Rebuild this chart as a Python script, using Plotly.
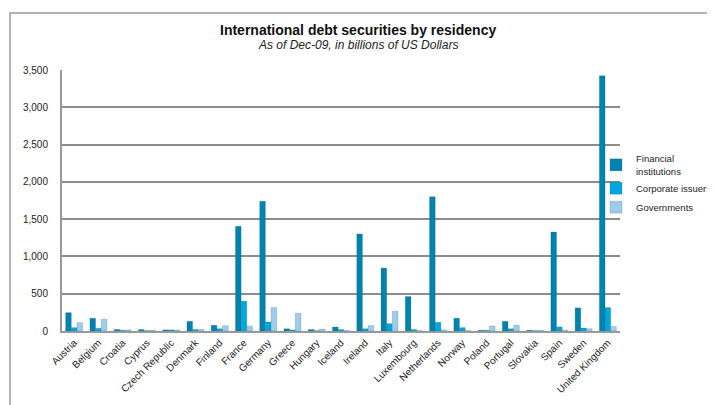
import plotly.graph_objects as go

countries = ["Austria", "Belgium", "Croatia", "Cyprus", "Czech Republic", "Denmark", "Finland",
             "France", "Germany", "Greece", "Hungary", "Iceland", "Ireland", "Italy", "Luxembourg",
             "Netherlands", "Norway", "Poland", "Portugal", "Slovakia", "Spain", "Sweden",
             "United Kingdom"]
financial = [246, 171, 20, 20, 15, 130, 77, 1404, 1740, 30, 20, 54, 1301, 844, 462,
             1799, 171, 10, 130, 10, 1328, 310, 3423]
corporate = [45, 36, 10, 5, 15, 20, 30, 400, 121, 15, 5, 20, 30, 98, 20,
             117, 45, 10, 30, 5, 55, 40, 314]
governments = [112, 157, 15, 10, 15, 20, 70, 65, 314, 238, 25, 5, 72, 265, 5,
               15, 5, 67, 77, 10, 10, 30, 60]

series = [("Financial<br>institutions", financial, "#0083AE"),
          ("Corporate issuers", corporate, "#00A8DE"),
          ("Governments", governments, "#9DCDEB")]

fig = go.Figure()
for name, vals, col in series:
    fig.add_trace(go.Bar(x=countries, y=vals, name=name,
                         marker=dict(color=col, line=dict(color="rgba(0,60,90,0.35)", width=0.5))))

# page body has an 8px margin, so target coordinates are shifted by 8
OFF = 8
W, H = 715 - OFF, 405 - OFF
L, R, T, B = 62 - OFF, 715 - 620, 70 - OFF, 405 - 331
pw, ph = W - L - R, H - T - B

def px(x):
    return (x - OFF - L) / pw

def py(y):
    return 1 - (y - OFF - T) / ph

fig.update_layout(
    width=W, height=H,
    margin=dict(l=L, r=R, t=T, b=B, autoexpand=False),
    paper_bgcolor="white", plot_bgcolor="white",
    font=dict(family="Liberation Sans, Arial, sans-serif", size=10, color="#222"),
    barmode="group", bargap=0.3, bargroupgap=0.0,
    showlegend=True,
    legend=dict(xref="container", yref="container", x=(596 - OFF) / W, y=1 - (146 - OFF) / H,
                xanchor="left", yanchor="top",
                font=dict(size=9.5), tracegroupgap=8, itemwidth=30,
                bgcolor="rgba(0,0,0,0)"),
    xaxis=dict(tickangle=-45, showline=True, linecolor="#999", linewidth=2, automargin=False,
               ticks="", tickfont=dict(size=10, color="#222"), showgrid=False),
    yaxis=dict(range=[0, 3500], dtick=500, tickformat=",", showline=True, automargin=False,
               linecolor="#999", linewidth=2, gridcolor="#8c8c8c", gridwidth=2,
               ticks="", ticklabelstandoff=10,
               tickfont=dict(size=10, color="#222"), zeroline=False),
    annotations=[
        dict(text="<b>International debt securities by residency</b>", xref="paper", yref="paper",
             x=px(358), y=py(30), showarrow=False, font=dict(size=14, color="#111"),
             xanchor="center", yanchor="middle"),
        dict(text="<i>As of Dec-09, in billions of US Dollars</i>", xref="paper", yref="paper",
             x=px(358), y=py(45), showarrow=False, font=dict(size=12, color="#222"),
             xanchor="center", yanchor="middle"),
    ],
    shapes=[dict(type="rect", xref="paper", yref="paper",
                 x0=px(10), x1=px(725), y0=py(420), y1=py(13),
                 line=dict(color="#999", width=1.5), fillcolor="rgba(0,0,0,0)", layer="below")],
)

fig.write_html("out.html")
